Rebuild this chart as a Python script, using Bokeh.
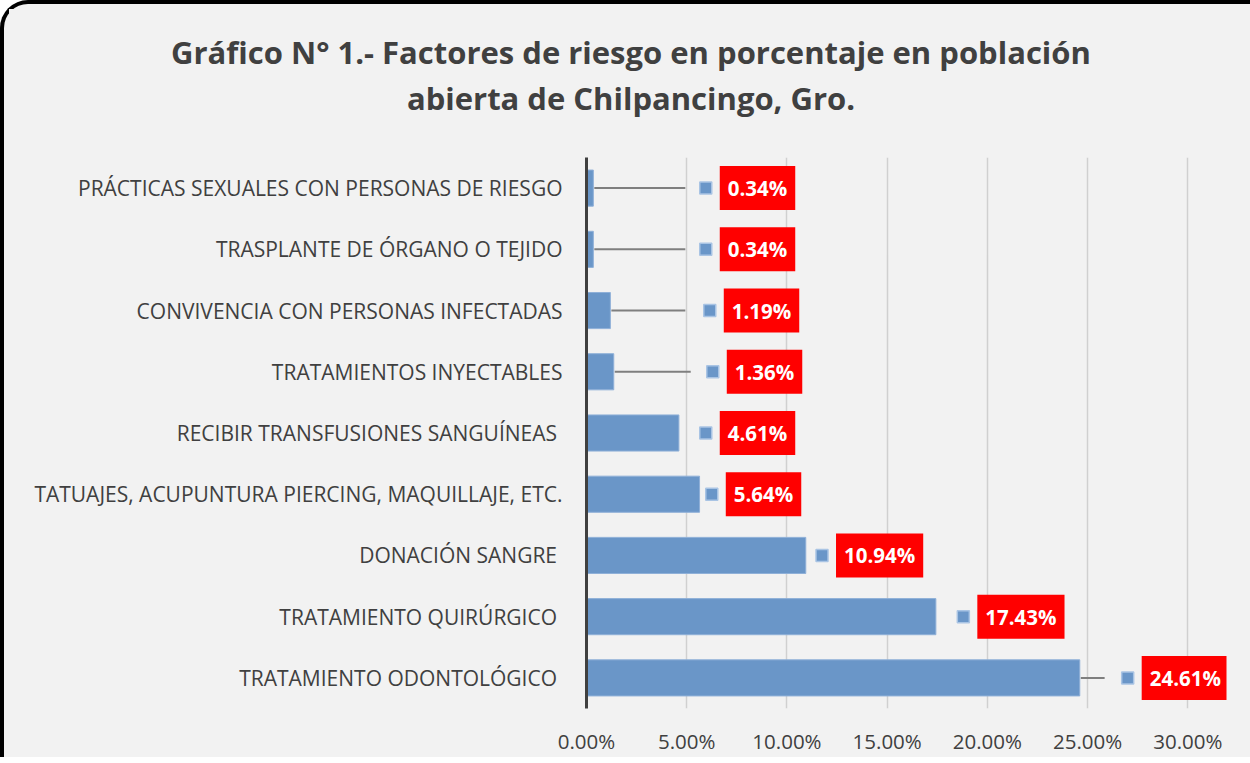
from bokeh.plotting import figure
from bokeh.models import ColumnDataSource, Range1d, FactorRange, Div, CustomJSTickFormatter
from bokeh.layouts import column
from bokeh.core.properties import value
from bokeh.embed import file_html
from bokeh.resources import INLINE

# Data (bottom to top)
categories = [
    "TRATAMIENTO ODONTOLÓGICO ",
    "TRATAMIENTO QUIRÚRGICO ",
    "DONACIÓN SANGRE ",
    "TATUAJES, ACUPUNTURA PIERCING, MAQUILLAJE, ETC.",
    "RECIBIR TRANSFUSIONES SANGUÍNEAS ",
    "TRATAMIENTOS INYECTABLES",
    "CONVIVENCIA CON PERSONAS INFECTADAS",
    "TRASPLANTE DE ÓRGANO O TEJIDO",
    "PRÁCTICAS SEXUALES CON PERSONAS DE RIESGO",
]
percent = [24.61, 17.43, 10.94, 5.64, 4.61, 1.36, 1.19, 0.34, 0.34]
labels = ["24.61%", "17.43%", "10.94%", "5.64%", "4.61%", "1.36%", "1.19%", "0.34%", "0.34%"]
x_ticks = [0, 5, 10, 15, 20, 25, 30]

# label placement (layout, in axis units)
label_pos = [27.0, 18.8, 11.75, 6.25, 5.95, 6.3, 6.15, 5.95, 5.95]
leader_end = [25.85, None, None, None, None, 5.2, 4.93, 4.93, 4.93]

TXT = "#404040"
BAR = "#6a96c8"
BG = "#f2f2f2"
FONT = "Open Sans"

src = ColumnDataSource(dict(cat=categories, v=percent, lbl=labels, lx=label_pos))

lead_x0, lead_x1, lead_y = [], [], []
for c, v, e in zip(categories, percent, leader_end):
    if e is not None:
        lead_x0.append(v + 0.05)
        lead_x1.append(e)
        lead_y.append(c)
lead_src = ColumnDataSource(dict(x0=lead_x0, x1=lead_x1, y=lead_y))

p = figure(width=1234, height=612, output_backend="svg", toolbar_location=None,
           y_range=FactorRange(*categories, range_padding=0),
           x_range=Range1d(0, 31.93),
           min_border_left=582, min_border_right=12, min_border_top=12, min_border_bottom=44)
p.background_fill_color = BG
p.border_fill_color = BG
p.outline_line_color = None

p.hbar(y="cat", right="v", left=0, height=0.59, source=src,
       fill_color=BAR, line_color="#8fb0d8", line_width=1)

p.segment(x0="x0", x1="x1", y0="y", y1="y", source=lead_src,
          line_color="#7f7f7f", line_width=2)

p.scatter(x="lx", y="cat", source=src, marker="square", size=12,
          fill_color=BAR, line_color="#a9c4e4", line_width=1.5)

p.text(x="lx", y="cat", text="lbl", source=src, x_offset=14,
       text_color="white", text_font=value(FONT), text_font_style="bold",
       text_font_size="20.5px", text_align="left", text_baseline="middle",
       background_fill_color="#ff0000", padding=8)

p.xaxis.ticker = x_ticks
p.xaxis.formatter = CustomJSTickFormatter(code="return tick.toFixed(2) + '%';")
p.xaxis.axis_line_color = None
p.xaxis.major_tick_line_color = None
p.xaxis.minor_tick_line_color = None
p.xaxis.major_label_standoff = 12
p.xaxis.major_label_text_font = FONT
p.xaxis.major_label_text_font_size = "20.5px"
p.xaxis.major_label_text_color = TXT

p.yaxis.axis_line_color = "#404040"
p.yaxis.axis_line_width = 3
p.yaxis.major_tick_line_color = None
p.yaxis.minor_tick_line_color = None
p.yaxis.major_label_standoff = 18
p.yaxis.major_label_text_font = FONT
p.yaxis.major_label_text_font_size = "21px"
p.yaxis.major_label_text_color = TXT

p.ygrid.grid_line_color = None
p.xgrid.grid_line_color = "#d0d0d0"
p.xgrid.grid_line_width = 1.5

title = Div(text="Gráfico N° 1.- Factores de riesgo en porcentaje en población<br>abierta de Chilpancingo, Gro.",
            width=1234, height=131,
            styles={"font-family": FONT, "font-weight": "bold", "font-size": "31px",
                    "color": TXT, "text-align": "center", "line-height": "46px",
                    "padding-top": "20px", "width": "1244px",
                    "background-color": BG})

layout = column(title, p, spacing=0,
                styles={"background-color": BG, "border-left": "4px solid black",
                        "border-top": "4px solid black", "border-top-left-radius": "28px"})

open("out.html", "w").write(file_html(layout, INLINE))
